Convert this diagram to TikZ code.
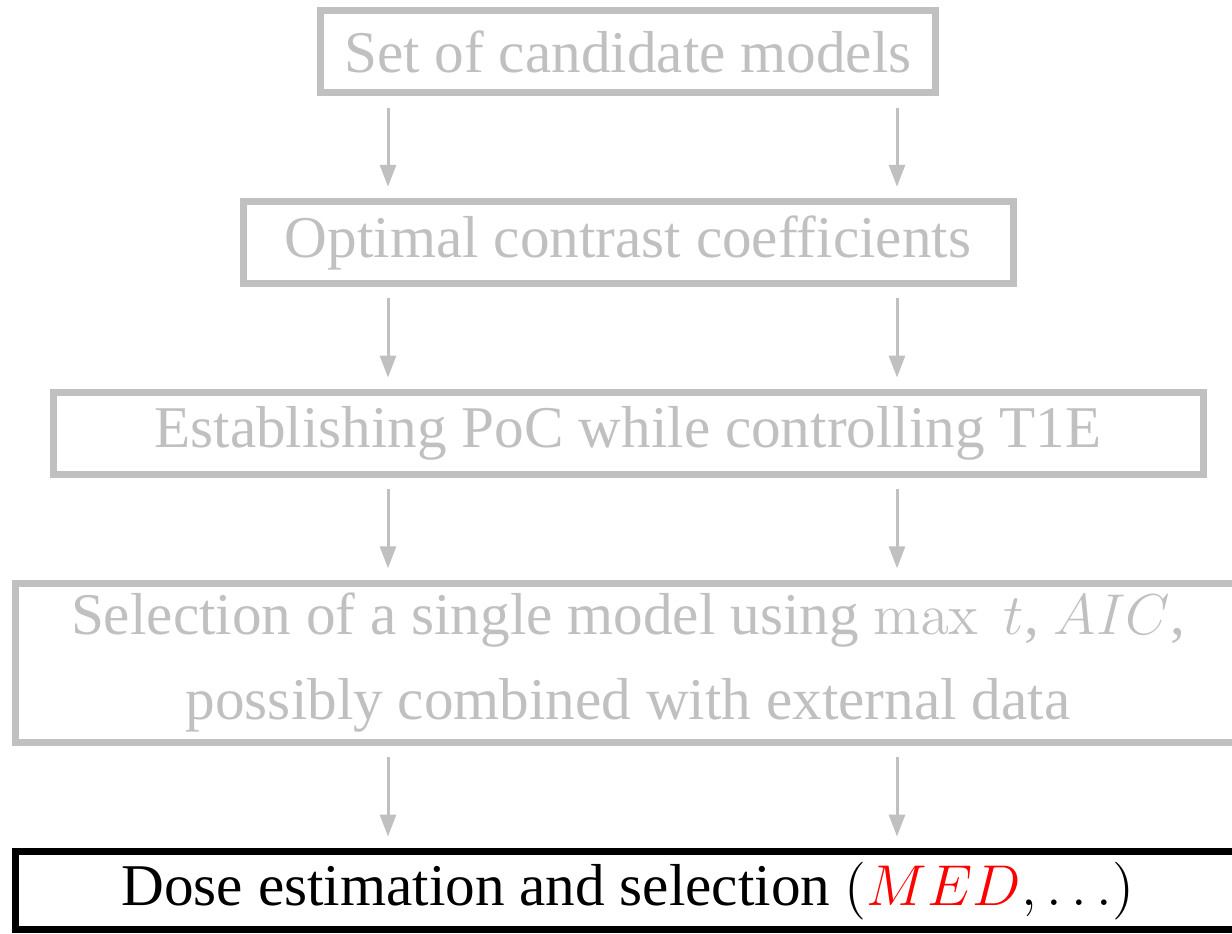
\documentclass[tikz,border=0pt]{standalone}
\usepackage[no-math]{fontspec}
\setmainfont{Liberation Serif}
\usetikzlibrary{positioning,arrows.meta}
\definecolor{faded}{RGB}{192,192,192}
\begin{document}
\begin{tikzpicture}[
  x=0.25pt, y=-0.25pt,
  node distance=27.3pt,
  stage/.style={rectangle, draw=faded, text=faded, line width=1.75pt, outer sep=0pt,
    inner sep=0pt, minimum height=20.4pt, align=center,
    font=\fontsize{14.8}{21.25}\selectfont\rmfamily},
  current/.style={stage, draw=black, text=black},
  flow/.style={draw=faded, line width=0.75pt, -{Triangle[width=4pt,length=5.5pt]},
    shorten <=3.75pt, shorten >=3.75pt}
]
  \useasboundingbox (0,0) rectangle (1232,933);
  \clip (0,0) rectangle (1232,933);

  \node[stage, minimum width=153.75pt] (cand) at (628,51.75) {Set of candidate models};
  \node[stage, minimum width=192.5pt, below=of cand] (contr) {Optimal contrast coefficients};
  \node[stage, minimum width=287.5pt, below=of contr] (poc) {Establishing PoC while controlling T1E};
  \node[stage, minimum width=306.5pt, minimum height=39.75pt, below=of poc] (select)
    {Selection of a single model using $\max\; t$, $AIC$,\\ possibly combined with external data};
  \node[current, minimum width=306.5pt, minimum height=19.6pt, below=of select] (dose)
    {Dose estimation and selection $(\textcolor{red}{MED}, \ldots)$};

  \coordinate (lft) at (388,0);
  \coordinate (rgt) at (897,0);

  \foreach \a/\b in {cand/contr, contr/poc, poc/select, select/dose} {
    \draw[flow] (\a.south -| lft) -- (\b.north -| lft);
    \draw[flow] (\a.south -| rgt) -- (\b.north -| rgt);
  }
\end{tikzpicture}
\end{document}
